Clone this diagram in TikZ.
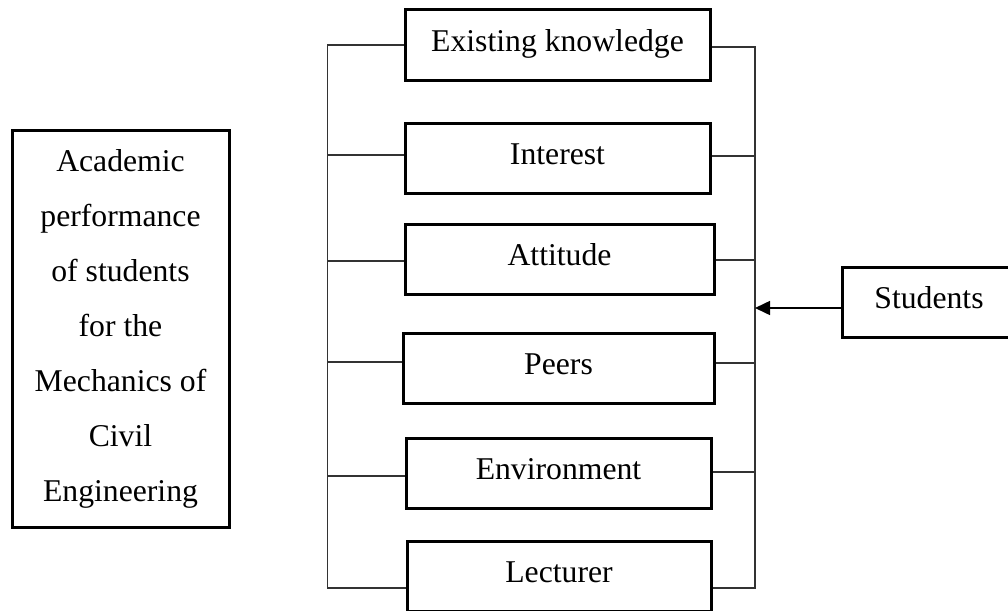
\documentclass[tikz,border=0pt]{standalone}
\usepackage{fontspec}
\setmainfont{Liberation Serif}
\usetikzlibrary{arrows.meta}
\begin{document}
\begin{tikzpicture}[x=1pt,y=-1pt,
  boxtext/.style={font=\fontsize{31.7}{55}\selectfont},
  factor/.style={draw,line width=3pt,minimum height=70pt,inner sep=0pt,
    boxtext,text height=21pt,text depth=8pt},
  link/.style={line width=1.6pt,draw=black!80},
]
\useasboundingbox (0,0) rectangle (1008,610);

% outcome box
\node[draw,line width=3pt,minimum width=217pt,minimum height=397pt,
  inner sep=0pt,align=center,boxtext] (perf) at (120.5,328.5)
  {Academic\\performance\\of students\\for the\\Mechanics of\\Civil\\Engineering};

% factor boxes
\node[factor,minimum width=305pt] (ek)  at (557.5,45)  {Existing knowledge};
\node[factor,minimum width=305pt] (int) at (557.5,158) {Interest};
\node[factor,minimum width=309pt] (att) at (559.5,259) {Attitude};
\node[factor,minimum width=311pt] (prs) at (558.5,368) {Peers};
\node[factor,minimum width=305pt] (env) at (558.5,473) {Environment};
\node[factor,minimum width=304pt] (lec) at (559,576)   {Lecturer};

% source box
\node[factor,minimum width=174pt] (stu) at (929,302) {Students};

% bus lines
\coordinate (lb) at (327.5,588);
\coordinate (rb) at (755,588);

% left bracket
\draw[link] (ek.west) -| (lb) -- (lb -| lec.west);
\draw[link] ([yshift=3pt]int.west) -- ([yshift=3pt]int.west -| lb);
\draw[link] ([yshift=-2pt]att.west) -- ([yshift=-2pt]att.west -| lb);
\draw[link] ([yshift=6pt]prs.west) -- ([yshift=6pt]prs.west -| lb);
\draw[link] ([yshift=-3pt]env.west) -- ([yshift=-3pt]env.west -| lb);

% right bracket
\draw[link] ([yshift=-2pt]ek.east) -| (rb) -- (rb -| lec.east);
\draw[link] ([yshift=2pt]int.east) -- ([yshift=2pt]int.east -| rb);
\draw[link] ([yshift=-1pt]att.east) -- ([yshift=-1pt]att.east -| rb);
\draw[link] ([yshift=5pt]prs.east) -- ([yshift=5pt]prs.east -| rb);
\draw[link] ([yshift=1pt]env.east) -- ([yshift=1pt]env.east -| rb);

% input arrow
\draw[line width=1.6pt,-{Triangle[length=15pt,width=14pt]}]
  ([yshift=-6pt]stu.west) -- ([yshift=-6pt]stu.west -| rb);
\end{tikzpicture}
\end{document}
